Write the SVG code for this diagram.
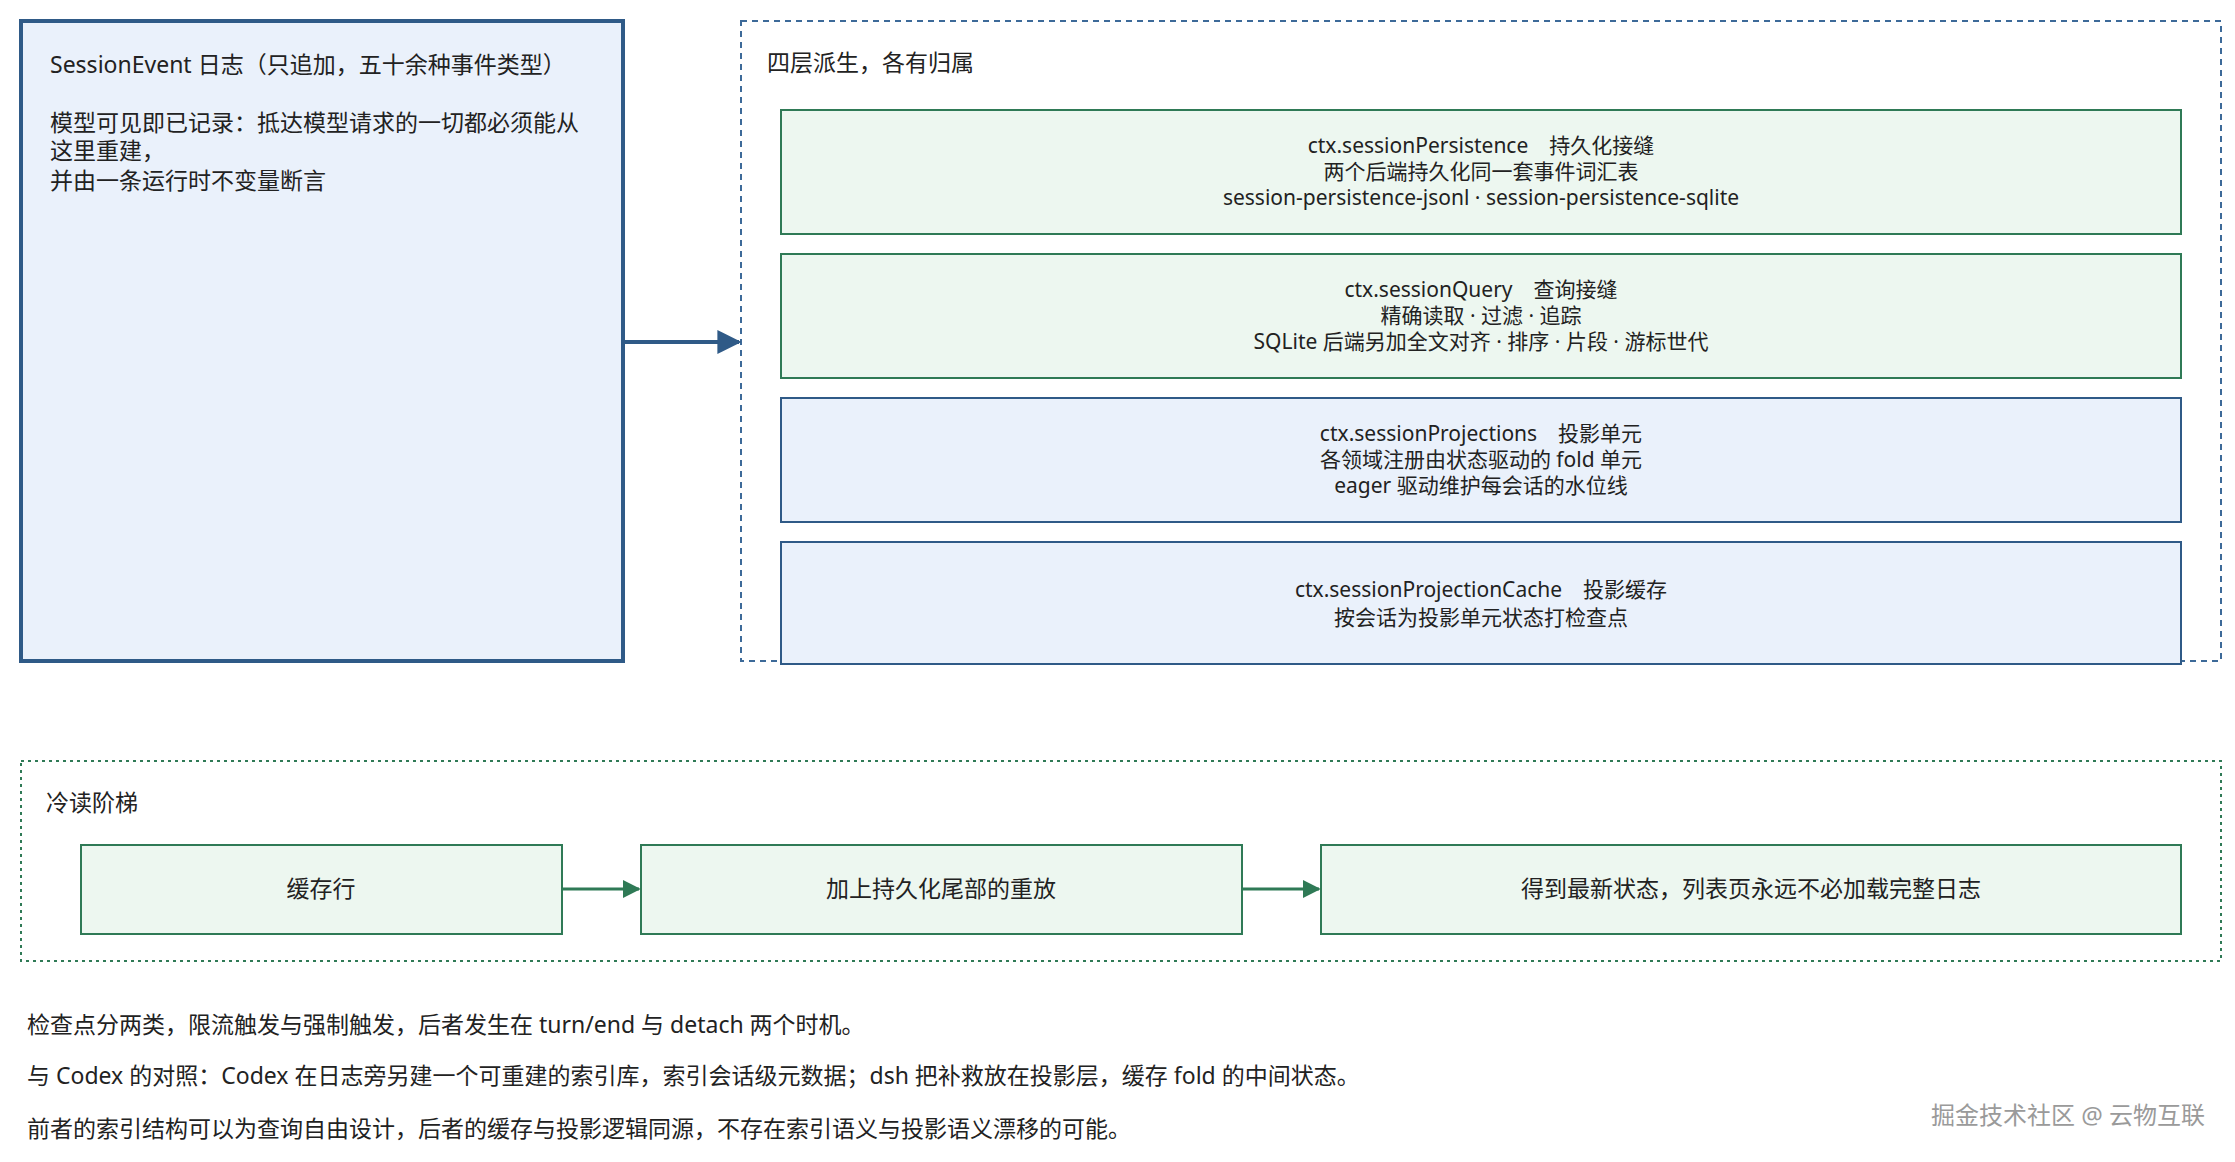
<svg xmlns="http://www.w3.org/2000/svg" width="2235" height="1162" viewBox="0 0 2235 1162">
<style>
text{font-family:"Noto Sans","Noto Sans CJK SC",sans-serif;fill:#222}
.c{text-anchor:middle;font-size:21px}
.b{fill:#eaf1fb;stroke:#2f5a87;stroke-width:2}
.g{fill:#edf7f0;stroke:#2f7a56;stroke-width:2}
.t{font-size:23px}
</style>
<defs>
<marker id="ab" viewBox="0 0 10 10" refX="9" refY="5" markerWidth="6" markerHeight="6" orient="auto"><path d="M0,0L10,5L0,10z" fill="#2f5a87"/></marker>
<marker id="ag" viewBox="0 0 10 10" refX="9" refY="5" markerWidth="6" markerHeight="6" orient="auto"><path d="M0,0L10,5L0,10z" fill="#2f7a56"/></marker>
</defs>
<rect width="2235" height="1162" fill="#fff"/>
<g id="log">
<rect x="21" y="21" width="602" height="640" fill="#eaf1fb" stroke="#2f5a87" stroke-width="4"/>
<text class="t" x="50" y="73">SessionEvent 日志（只追加，五十余种事件类型）</text>
<text class="t" x="50" y="131">模型可见即已记录：抵达模型请求的一切都必须能从</text>
<text class="t" x="50" y="159">这里重建，</text>
<text class="t" x="50" y="189">并由一条运行时不变量断言</text>
</g>
<g id="layers">
<rect x="741" y="21" width="1480" height="640" fill="none" stroke="#3d6a99" stroke-width="2" stroke-dasharray="6,5"/>
<text class="t" x="767" y="71">四层派生，各有归属</text>
</g>
<g id="persist">
<rect class="g" x="781" y="110" width="1400" height="124"/>
<text class="c" x="1481" y="153">ctx.sessionPersistence　持久化接缝</text>
<text class="c" x="1481" y="179">两个后端持久化同一套事件词汇表</text>
<text class="c" x="1481" y="205">session-persistence-jsonl · session-persistence-sqlite</text>
</g>
<g id="query">
<rect class="g" x="781" y="254" width="1400" height="124"/>
<text class="c" x="1481" y="297">ctx.sessionQuery　查询接缝</text>
<text class="c" x="1481" y="323">精确读取 · 过滤 · 追踪</text>
<text class="c" x="1481" y="349">SQLite 后端另加全文对齐 · 排序 · 片段 · 游标世代</text>
</g>
<g id="proj">
<rect class="b" x="781" y="398" width="1400" height="124"/>
<text class="c" x="1481" y="441">ctx.sessionProjections　投影单元</text>
<text class="c" x="1481" y="467">各领域注册由状态驱动的 fold 单元</text>
<text class="c" x="1481" y="493">eager 驱动维护每会话的水位线</text>
</g>
<g id="cache">
<rect class="b" x="781" y="542" width="1400" height="122"/>
<text class="c" x="1481" y="597">ctx.sessionProjectionCache　投影缓存</text>
<text class="c" x="1481" y="625">按会话为投影单元状态打检查点</text>
</g>
<g id="ladder">
<rect x="21" y="761" width="2200" height="200" fill="none" stroke="#2f7a56" stroke-width="2" stroke-dasharray="3,4"/>
<text class="t" x="46" y="811">冷读阶梯</text>
</g>
<g id="s1"><rect class="g" x="81" y="845" width="481" height="89"/><text class="t" x="321" y="897" text-anchor="middle">缓存行</text></g>
<g id="s2"><rect class="g" x="641" y="845" width="601" height="89"/><text class="t" x="941" y="897" text-anchor="middle">加上持久化尾部的重放</text></g>
<g id="s3"><rect class="g" x="1321" y="845" width="860" height="89"/><text class="t" x="1751" y="897" text-anchor="middle">得到最新状态，列表页永远不必加载完整日志</text></g>
<g id="connectors">
<line x1="623" y1="342" x2="739" y2="342" stroke="#2f5a87" stroke-width="4" marker-end="url(#ab)"/>
<line x1="562" y1="889" x2="639" y2="889" stroke="#2f7a56" stroke-width="3" marker-end="url(#ag)"/>
<line x1="1242" y1="889" x2="1319" y2="889" stroke="#2f7a56" stroke-width="3" marker-end="url(#ag)"/>
</g>
<text class="t" x="27" y="1033">检查点分两类，限流触发与强制触发，后者发生在 turn/end 与 detach 两个时机。</text>
<text class="t" x="27" y="1084">与 Codex 的对照：Codex 在日志旁另建一个可重建的索引库，索引会话级元数据；dsh 把补救放在投影层，缓存 fold 的中间状态。</text>
<text class="t" x="27" y="1137">前者的索引结构可以为查询自由设计，后者的缓存与投影逻辑同源，不存在索引语义与投影语义漂移的可能。</text>
<text x="2205" y="1124" text-anchor="end" style="font-size:24px;fill:#9a9a9a">掘金技术社区 @ 云物互联</text>
</svg>
